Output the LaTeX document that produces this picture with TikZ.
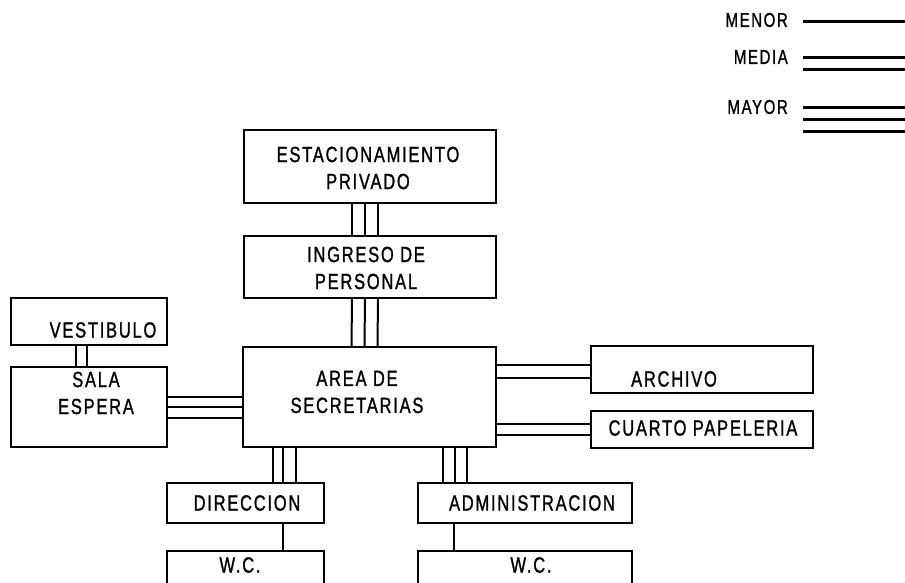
\documentclass[tikz,border=0pt]{standalone}
\usepackage{fontspec}
\setmainfont{Liberation Sans}[FakeStretch=0.75,LetterSpace=8,FakeBold=1.2]
\begin{document}
\begin{tikzpicture}[x=1pt,y=-1pt,
  box/.style={draw,line width=2.2pt,rectangle,inner sep=0pt},
  lbl/.style={font=\fontsize{22}{27}\selectfont,inner sep=0pt,align=center},
  leglbl/.style={font=\fontsize{20}{24}\selectfont,inner sep=0pt,anchor=east},
  conn/.style={line width=2pt},
  leg/.style={line width=3pt}]
\useasboundingbox (0,0) rectangle (905,582);
\clip (0,0) rectangle (905,582);
% boxes
\node[box,minimum width=252pt,minimum height=73pt] (est) at (370,166.5) {};
\node[box,minimum width=252pt,minimum height=62pt] (ing) at (370,267) {};
\node[box,minimum width=156pt,minimum height=47pt] (vest) at (89,321.5) {};
\node[box,minimum width=156pt,minimum height=80pt] (sala) at (89,407) {};
\node[box,minimum width=253pt,minimum height=100pt] (area) at (369.5,397) {};
\node[box,minimum width=222pt,minimum height=47pt] (arch) at (702,369.5) {};
\node[box,minimum width=222pt,minimum height=37pt] (cuarto) at (702,429.5) {};
\node[box,minimum width=157pt,minimum height=40pt] (dir) at (245.5,503) {};
\node[box,minimum width=214pt,minimum height=40pt] (adm) at (525,503) {};
\node[box,minimum width=157pt,minimum height=59pt] (wc1) at (245.5,580.5) {};
\node[box,minimum width=214pt,minimum height=59pt] (wc2) at (525,580.5) {};
% texts
\node[lbl] (est-t) at (368,168) {ESTACIONAMIENTO\\PRIVADO};
\node[lbl] (ing-t) at (366,268) {INGRESO DE\\PERSONAL};
\node[lbl] (vest-t) at (103,330) {VESTIBULO};
\node[lbl] (sala-t) at (96,393) {SALA\\ESPERA};
\node[lbl] (area-t) at (357,392) {AREA DE\\SECRETARIAS};
\node[lbl] (arch-t) at (674,379) {ARCHIVO};
\node[lbl] (cuarto-t) at (703,428) {CUARTO PAPELERIA};
\node[lbl] (dir-t) at (247,503) {DIRECCION};
\node[lbl] (adm-t) at (532,503) {ADMINISTRACION};
\node[lbl] (wc1-t) at (240,565) {W.C.};
\node[lbl] (wc2-t) at (531,565) {W.C.};
% connectors
\foreach \d in {-18,-5,8}{
  \draw[conn] ([xshift=\d pt]est.south) -- ([xshift=\d pt]ing.north);
  \draw[conn] ([xshift=\d pt]ing.south) -- ([xshift=\d pt]area.north);
}
\foreach \d in {-13,-2}{
  \draw[conn] ([xshift=\d pt]vest.south) -- ([xshift=\d pt]sala.north);
}
\draw[conn] ([yshift=10pt]sala.east) -- ([yshift=0pt]area.west);
\draw[conn] ([yshift=0pt]sala.east) -- ([yshift=-10pt]area.west);
\draw[conn] ([yshift=-11pt]sala.east) -- ([yshift=-21pt]area.west);
\draw[conn] ([yshift=32pt]area.east) -- ([yshift=4.5pt]arch.west);
\draw[conn] ([yshift=19pt]area.east) -- ([yshift=-8.5pt]arch.west);
\draw[conn] ([yshift=-27pt]area.east) -- ([yshift=5.5pt]cuarto.west);
\draw[conn] ([yshift=-38pt]area.east) -- ([yshift=-5.5pt]cuarto.west);
\draw[conn] ([xshift=-96.5pt]area.south) -- ([xshift=27.5pt]dir.north);
\draw[conn] ([xshift=-86.5pt]area.south) -- ([xshift=37.5pt]dir.north);
\draw[conn] ([xshift=-73.5pt]area.south) -- ([xshift=50.5pt]dir.north);
\draw[conn] ([xshift=73.5pt]area.south) -- ([xshift=-82pt]adm.north);
\draw[conn] ([xshift=85.5pt]area.south) -- ([xshift=-70pt]adm.north);
\draw[conn] ([xshift=97.5pt]area.south) -- ([xshift=-58pt]adm.north);
\draw[conn] ([xshift=37.5pt]dir.south) -- ([xshift=37.5pt]wc1.north);
\draw[conn] ([xshift=-71pt]adm.south) -- ([xshift=-71pt]wc2.north);
% legend
\node[leglbl] (menor) at (788,20) {MENOR};
\node[leglbl] (media) at (788,57) {MEDIA};
\node[leglbl] (mayor) at (788,107) {MAYOR};
\coordinate (l1a) at (803,21);  \coordinate (l1b) at (905,21);
\coordinate (l2a) at (803,57);  \coordinate (l2b) at (905,57);
\coordinate (l3a) at (803,69);  \coordinate (l3b) at (905,69);
\coordinate (l4a) at (803,107); \coordinate (l4b) at (905,107);
\coordinate (l5a) at (803,119); \coordinate (l5b) at (905,119);
\coordinate (l6a) at (803,131); \coordinate (l6b) at (905,131);
\foreach \i in {1,...,6}{\draw[leg] (l\i a) -- (l\i b);}
\end{tikzpicture}
\end{document}
